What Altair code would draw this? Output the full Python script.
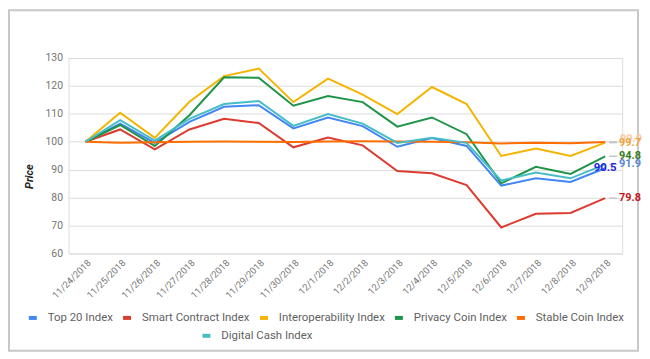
import altair as alt
import pandas as pd

dates = ["11/24/2018", "11/25/2018", "11/26/2018", "11/27/2018", "11/28/2018",
         "11/29/2018", "11/30/2018", "12/1/2018", "12/2/2018", "12/3/2018",
         "12/4/2018", "12/5/2018", "12/6/2018", "12/7/2018", "12/8/2018", "12/9/2018"]

series_names = ["Top 20 Index", "Smart Contract Index", "Interoperability Index",
                "Privacy Coin Index", "Stable Coin Index", "Digital Cash Index"]

top20 = [100, 106.5, 99.6, 107.1, 112.5, 113.1, 104.8, 108.7, 105.6, 98.2, 101.3, 98.5, 84.3, 86.9, 85.6, 90.5]
smart = [100, 104.4, 97.3, 104.4, 108.2, 106.7, 98.0, 101.5, 98.7, 89.5, 88.7, 84.5, 69.3, 74.2, 74.5, 79.8]
interop = [100, 110.4, 101.4, 114.3, 123.5, 126.2, 114.2, 122.6, 116.9, 109.9, 119.6, 113.5, 94.9, 97.6, 94.9, 99.7]
privacy = [100, 106.0, 98.5, 109.5, 123.1, 122.9, 112.9, 116.4, 114.2, 105.4, 108.7, 102.7, 85.1, 91.0, 88.5, 94.8]
stable = [100, 99.6, 99.8, 100.0, 100.1, 100.0, 99.9, 100.1, 100.2, 100.1, 100.0, 99.8, 99.4, 99.6, 99.5, 99.9]
digital = [100, 107.7, 100.4, 108.2, 113.5, 114.6, 105.7, 109.9, 106.5, 99.6, 101.4, 99.6, 86.1, 89.0, 86.9, 91.9]

line_colors = ["#4285f4", "#dc3b2f", "#f4b400", "#1e9448", "#ff6d01", "#46bdc6"]
label_colors = ["#2222dd", "#c4161c", "#f0a53a", "#3a7a22", "#f9c9a4", "#5b86d6"]

all_series = [top20, smart, interop, privacy, stable, digital]
rows = []
for name, vals in zip(series_names, all_series):
    for d, v in zip(dates, vals):
        rows.append({"date": d, "series": name, "value": v})
df = pd.DataFrame(rows)
df_main = df[df["series"] != "Digital Cash Index"]
df_digital = df[df["series"] == "Digital Cash Index"]

last = dates[-1]
label_series = ["Interoperability Index", "Privacy Coin Index",
                "Digital Cash Index", "Smart Contract Index"]
lab_df = pd.DataFrame([{"date": last, "series": n, "value": all_series[series_names.index(n)][-1]}
                       for n in label_series])
stable_df = pd.DataFrame([{"date": last, "series": "Stable Coin Index", "value": stable[-1]}])
blue_df = pd.DataFrame([{"date": last, "series": "Top 20 Index", "value": top20[-1]}])

FONT = "Roboto"

x_enc = alt.X("date:N", sort=dates,
              scale=alt.Scale(type="point", padding=0.49),
              axis=alt.Axis(title=None, labelAngle=-45, labelColor="#757575",
                            labelFontSize=9.5, labelFont=FONT, ticks=False,
                            domain=False, grid=False, labelPadding=4, labelOverlap=False))
y_enc = alt.Y("value:Q",
              scale=alt.Scale(domain=[60, 130], nice=False, zero=False),
              axis=alt.Axis(title="Price", values=[60, 70, 80, 90, 100, 110, 120, 130],
                            labelOverlap=False,
                            labelColor="#757575", labelFontSize=10.5, labelFont=FONT,
                            ticks=False, domain=False, gridColor="#dcdcdc",
                            labelPadding=6, titleFont=FONT, titleFontSize=11,
                            titleFontStyle="italic", titleFontWeight="bold",
                            titleColor="#222222", titleX=-39, titleY=119,
                            titleAngle=-90, titleAlign="center", titleBaseline="middle"))

legend_style = dict(title=None, orient="none", direction="horizontal",
                    symbolType="stroke", symbolStrokeWidth=4, symbolSize=64,
                    labelFont=FONT, labelFontSize=11.5, labelColor="#5f5f5f",
                    labelOffset=9, columnPadding=2, labelLimit=200)

main_names = series_names[:5]
lines = alt.Chart(df_main).mark_line(strokeWidth=2).encode(
    x=x_enc, y=y_enc,
    color=alt.Color("series:N", sort=main_names,
                    scale=alt.Scale(domain=main_names, range=line_colors[:5]),
                    legend=alt.Legend(legendX=-42, legendY=256, **legend_style)),
    detail="series:N",
)

digital_line = alt.Chart(df_digital).mark_line(strokeWidth=2).encode(
    x=x_enc, y=y_enc,
    color=alt.Color("series:N",
                    scale=alt.Scale(domain=["Digital Cash Index"], range=[line_colors[5]]),
                    legend=alt.Legend(legendX=133, legendY=274, **legend_style)),
)

leaders = alt.Chart(pd.concat([lab_df, stable_df])).mark_rule(
    color="#c4c4c4", strokeWidth=1.5, xOffset=4, x2Offset=12
).encode(x=x_enc, x2=alt.X2("date"), y=y_enc)

stable_label = alt.Chart(stable_df).mark_text(
    align="left", baseline="middle", dx=15, dy=-3, font=FONT, fontSize=11,
    fontWeight="bold", color="#f9c9a4"
).encode(x=x_enc, y=y_enc, text=alt.Text("value:Q", format=".1f"))

labels = alt.Chart(lab_df).mark_text(align="left", baseline="middle", dx=14,
                                       font=FONT, fontSize=11, fontWeight="bold").encode(
    x=x_enc, y=y_enc,
    text=alt.Text("value:Q", format=".1f"),
    color=alt.Color("series:N", scale=alt.Scale(domain=series_names, range=label_colors), legend=None),
)

blue_label = alt.Chart(blue_df).mark_text(align="center", baseline="middle", dx=0,
                                           font=FONT, fontSize=11.5, fontWeight="bold",
                                           color="#2222dd").encode(
    x=x_enc, y=y_enc,
    text=alt.Text("value:Q", format=".1f"),
)

frame = alt.Chart(pd.DataFrame({"k": [0]})).mark_rect(
    fillOpacity=0, stroke="#c8c8c8", strokeWidth=2
).encode(x=alt.value(-60), x2=alt.value(574), y=alt.value(-48), y2=alt.value(295))

chart = alt.layer(frame, lines, digital_line, leaders, stable_label, labels, blue_label).resolve_scale(
    color="independent"
).properties(
    width=558, height=197,
    autosize=alt.AutoSizeParams(type="none"),
    padding={"left": 61, "top": 49, "right": 20, "bottom": 101},
).configure_view(stroke=None).configure(background="white")

chart.save("out.html", embed_options={"renderer": "svg", "actions": False})
